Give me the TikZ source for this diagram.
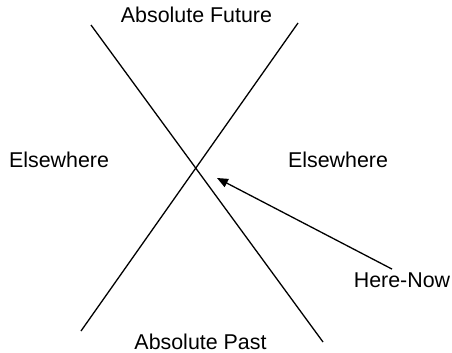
\documentclass[tikz,border=0pt]{standalone}
\usepackage{fontspec}
\setmainfont{Liberation Sans}
\usetikzlibrary{arrows.meta}

\tikzset{
  conelabel/.style={anchor=base, inner sep=0pt, font=\fontsize{21.4}{25}\selectfont},
  worldline/.style={black, line width=1.3pt},
  pointer/.style={black, line width=1.3pt, -{Triangle[length=11pt, width=9pt]}}
}

\begin{document}
\begin{tikzpicture}[x=1pt, y=-1pt]
\useasboundingbox (0,0) rectangle (452,353);
% --- the two light lines ---
\coordinate (futL) at (91,25);
\coordinate (pastR) at (323,342);
\coordinate (futR) at (298,23);
\coordinate (pastL) at (81,331);
\draw[worldline] (futL) -- (pastR);
\draw[worldline] (futR) -- (pastL);
% --- labels ---
\node[conelabel] (future) at (196.5,23) {Absolute Future};
\node[conelabel] (past) at (200.5,349) {Absolute Past};
\node[conelabel] (elseL) at (59,167) {Elsewhere};
\node[conelabel] (elseR) at (338,167) {Elsewhere};
\node[conelabel] (herenow) at (402,287) {Here-Now};
% --- pointer to the event ---
\coordinate (event) at (217,178);
\draw[pointer] ([xshift=-10pt, yshift=3pt]herenow.north) -- (event);
\end{tikzpicture}
\end{document}
